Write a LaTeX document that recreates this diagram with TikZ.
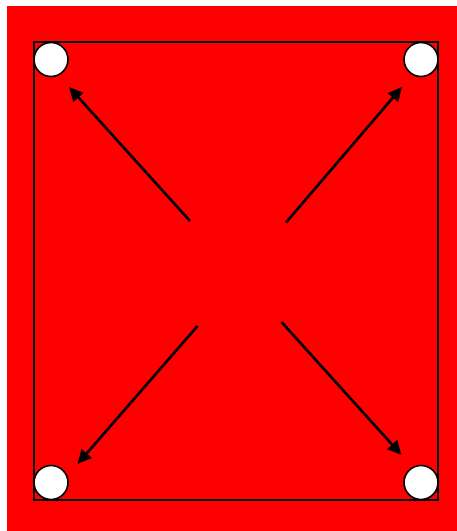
\documentclass[tikz,border=0pt]{standalone}
\usepackage{tikz}
\usetikzlibrary{arrows.meta}
\definecolor{bgred}{HTML}{FF0000}

\begin{document}
\begin{tikzpicture}[x=1pt,y=-1pt,
    corner/.style={circle,draw=black,fill=white,line width=1.6pt,minimum size=34pt,inner sep=0pt},
    push/.style={-{Triangle[length=14pt,width=13pt]},line width=2.6pt,black}]
      \useasboundingbox (0,0) rectangle (457,531);
      \fill[bgred] (7,6) rectangle (457,531);
      \draw[line width=1.4pt] (34,42) rectangle (438,500);
      \node[corner] (tl) at (51,59.5) {};
      \node[corner] (tr) at (421,59.5) {};
      \node[corner] (bl) at (51,482.5) {};
      \node[corner] (br) at (421,482.5) {};
      \coordinate (a1) at (190,221);
      \coordinate (a2) at (286,222.5);
      \coordinate (a3) at (197.5,326);
      \coordinate (a4) at (281.5,322);
      \coordinate (t1) at (69,87);
      \coordinate (t2) at (402,87);
      \coordinate (t3) at (77.5,464);
      \coordinate (t4) at (401.5,455);
      \draw[push] (a1)--(t1);
      \draw[push] (a2)--(t2);
      \draw[push] (a3)--(t3);
      \draw[push] (a4)--(t4);
    \end{tikzpicture}
\end{document}
